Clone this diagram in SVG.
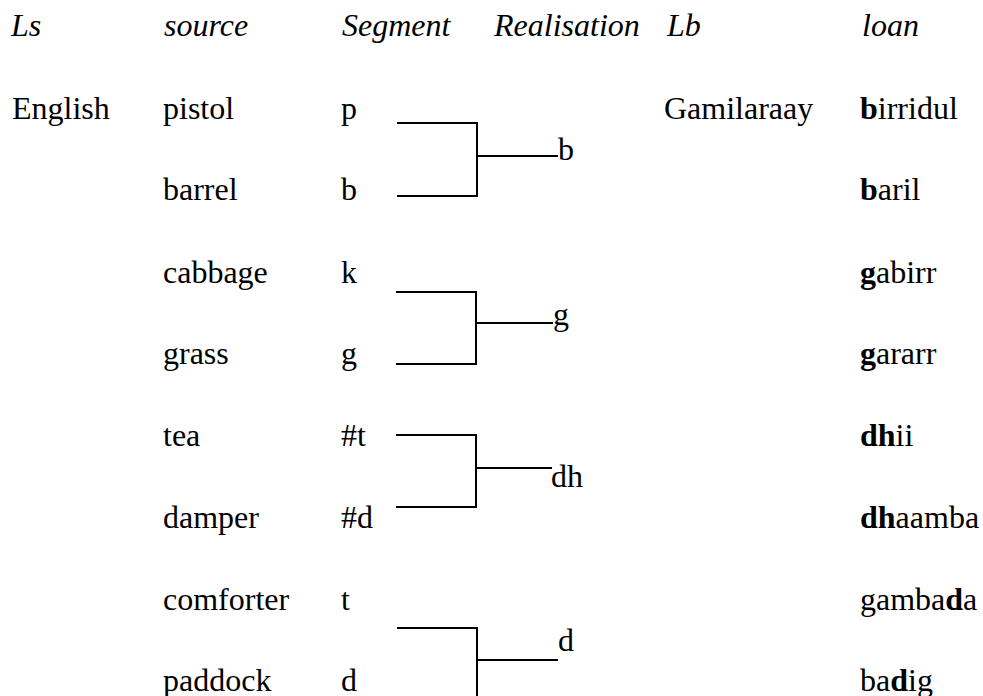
<svg xmlns="http://www.w3.org/2000/svg" width="983" height="696" viewBox="0 0 983 696" font-family="'Liberation Serif', 'Times New Roman', Times, serif" font-size="32">
  <style>
    text { fill: #000; }
    .hd { font-style: italic; }
    .b { font-weight: bold; }
    .link { fill: none; stroke: #000; stroke-width: 2; }
  </style>
  <rect width="983" height="696" fill="#fff"/>

  <!-- column headings -->
  <g id="header">
    <text class="hd" x="11" y="36">Ls</text>
    <text class="hd" x="164" y="36">source</text>
    <text class="hd" x="342" y="36">Segment</text>
    <text class="hd" x="494" y="36">Realisation</text>
    <text class="hd" x="667" y="36">Lb</text>
    <text class="hd" x="862" y="36">loan</text>
  </g>

  <!-- language labels -->
  <g id="lang-source"><text x="12" y="119">English</text></g>
  <g id="lang-borrowing"><text x="664" y="119">Gamilaraay</text></g>

  <!-- rows: source word, segment, loan -->
  <g id="row-pistol">
    <text x="163" y="119">pistol</text>
    <text x="341" y="119">p</text>
    <text x="860" y="119"><tspan class="b">b</tspan>irridul</text>
  </g>
  <g id="row-barrel">
    <text x="163" y="200">barrel</text>
    <text x="341" y="200">b</text>
    <text x="860" y="200"><tspan class="b">b</tspan>aril</text>
  </g>
  <g id="row-cabbage">
    <text x="163" y="283">cabbage</text>
    <text x="341" y="283">k</text>
    <text x="860" y="283"><tspan class="b">g</tspan>abirr</text>
  </g>
  <g id="row-grass">
    <text x="163" y="364">grass</text>
    <text x="341" y="364">g</text>
    <text x="860" y="364"><tspan class="b">g</tspan>ararr</text>
  </g>
  <g id="row-tea">
    <text x="163" y="446">tea</text>
    <text x="341" y="446">#t</text>
    <text x="860" y="446"><tspan class="b">dh</tspan>ii</text>
  </g>
  <g id="row-damper">
    <text x="163" y="528">damper</text>
    <text x="341" y="528">#d</text>
    <text x="860" y="528"><tspan class="b">dh</tspan>aamba</text>
  </g>
  <g id="row-comforter">
    <text x="163" y="610">comforter</text>
    <text x="341" y="610">t</text>
    <text x="860" y="610">gamba<tspan class="b">d</tspan>a</text>
  </g>
  <g id="row-paddock">
    <text x="163" y="691">paddock</text>
    <text x="341" y="691">d</text>
    <text x="860" y="691">ba<tspan class="b">d</tspan>ig</text>
  </g>

  <!-- realisations -->
  <g id="real-b"><text x="558" y="160">b</text></g>
  <g id="real-g"><text x="553" y="325">g</text></g>
  <g id="real-dh"><text x="551" y="487">dh</text></g>
  <g id="real-d"><text x="558" y="651">d</text></g>

  <!-- merging brackets -->
  <g id="connectors" class="link">
    <path class="link" d="M397 123 H477 V196 H397 M477 156 H558"/>
    <path class="link" d="M396 292 H476 V364 H396 M476 323 H553"/>
    <path class="link" d="M396 435 H476 V507 H396 M476 468 H552"/>
    <path class="link" d="M397 628 H477 V700 H397 M477 660 H558"/>
  </g>
</svg>
